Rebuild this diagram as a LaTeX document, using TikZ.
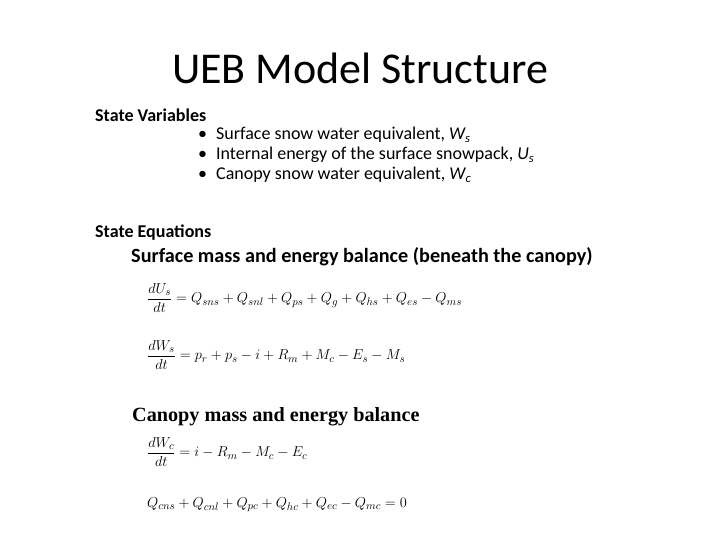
\documentclass[tikz,border=0pt]{standalone}
\usepackage{fontspec}
\setmainfont{Carlito}
\newfontfamily\timesf{Liberation Serif}
\begin{document}
\begin{tikzpicture}[x=1pt,y=-1pt,
  txt/.style={anchor=west,inner sep=0pt},
  eq/.style={anchor=west,inner sep=0pt,font=\fontsize{15.3}{18}\selectfont}]
\useasboundingbox (0,0) rectangle (720,540);
\node[inner sep=0pt,font=\fontsize{44}{50}\selectfont] (title) at (360,68) {UEB Model Structure};
\node[txt,font=\fontsize{18}{21}\selectfont\bfseries] (sv) at (95,115) {State Variables};
\node[txt,font=\fontsize{18}{21}\selectfont] (b1) at (198,135) {\textbullet\hspace{9pt}Surface snow water equivalent, \textit{W\textsubscript{s}}};
\node[txt,font=\fontsize{18}{21}\selectfont] (b2) at (198,155) {\textbullet\hspace{9pt}Internal energy of the surface snowpack, \textit{U\textsubscript{s}}};
\node[txt,font=\fontsize{18}{21}\selectfont] (b3) at (198,175) {\textbullet\hspace{9pt}Canopy snow water equivalent, \textit{W\textsubscript{c}}};
\node[txt,font=\fontsize{18}{21}\selectfont\bfseries] (se) at (95,233) {State Equations};
\node[txt,font=\fontsize{20.2}{24}\selectfont\bfseries] (sm) at (131,257) {Surface mass and energy balance (beneath the canopy)};
\node[eq] (e1) at (147,298) {$\displaystyle \frac{dU_s}{dt}=Q_{sns}+Q_{snl}+Q_{ps}+Q_g+Q_{hs}+Q_{es}-Q_{ms}$};
\node[eq] (e2) at (147,355) {$\displaystyle \frac{dW_s}{dt}=p_r+p_s-i+R_m+M_c-E_s-M_s$};
\node[txt,font=\fontsize{20.2}{24}\selectfont\timesf\bfseries] (cm) at (132,417) {Canopy mass and energy balance};
\node[eq] (e3) at (147,452) {$\displaystyle \frac{dW_c}{dt}=i-R_m-M_c-E_c$};
\node[eq] (e4) at (147,505) {$Q_{cns}+Q_{cnl}+Q_{pc}+Q_{hc}+Q_{ec}-Q_{mc}=0$};
\end{tikzpicture}
\end{document}
